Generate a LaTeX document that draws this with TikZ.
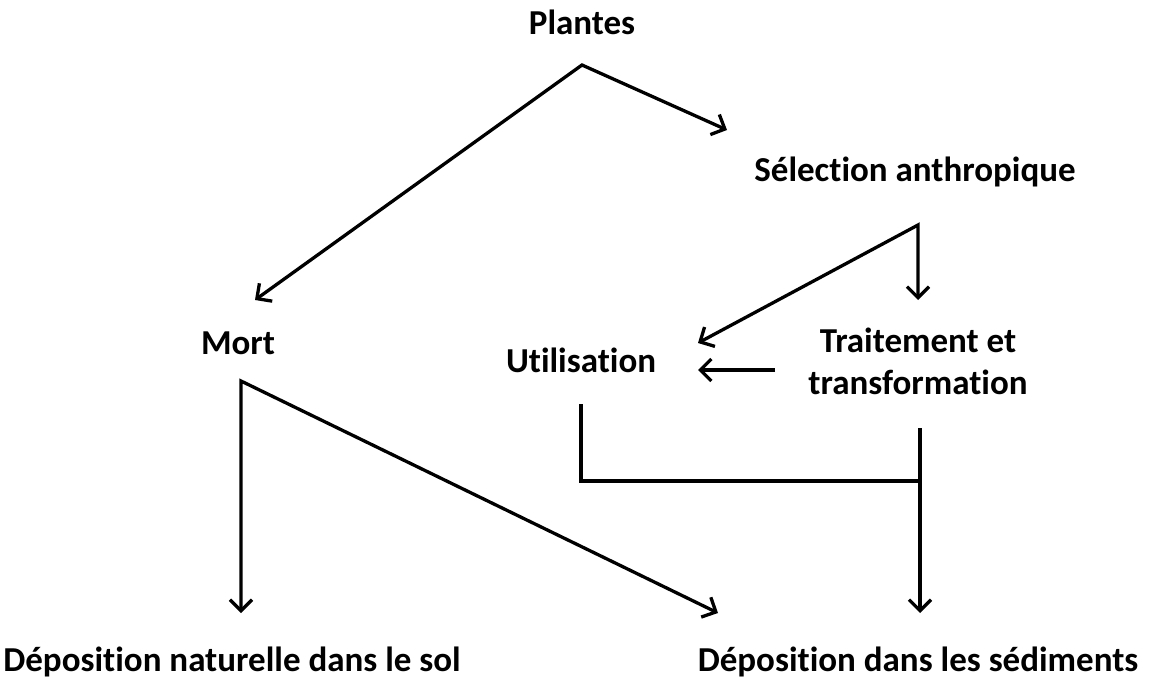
\documentclass[tikz,border=0pt]{standalone}
\usepackage{fontspec}
\setmainfont{Carlito}[RawFeature={-liga}]
\usetikzlibrary{arrows.meta}
\begin{document}
\begin{tikzpicture}[x=1pt,y=-1pt,
  lbl/.style={font=\fontsize{35}{42}\selectfont\bfseries, inner sep=0pt, anchor=base},
  conn/.style={line width=3.3pt, line join=miter},
  tip/.style={Straight Barb[length=11pt,width=22pt,line width=3.3pt]},
  arr/.style={conn, -{Straight Barb[length=11pt,width=22pt,line width=3.3pt]}},
  arrb/.style={conn, {Straight Barb[length=11pt,width=22pt,line width=3.3pt]}-{Straight Barb[length=11pt,width=22pt,line width=3.3pt]}}]
\useasboundingbox (0,0) rectangle (1158,685);
\node[lbl] (plantes) at (582,35) {Plantes};
\node[lbl] (selection) at (915,181) {Sélection anthropique};
\node[lbl] (mort) at (238,354) {Mort};
\node[lbl] (util) at (581,372) {Utilisation};
\node[lbl] (trait1) at (918,352) {Traitement et};
\node[lbl] (trait2) at (918,394) {transformation};
\node[lbl] (depnat) at (232,671) {Déposition naturelle dans le sol};
\node[lbl] (depsed) at (918,671) {Déposition dans les sédiments};
% connector points
\coordinate (p0) at (582,65);
\coordinate (pS) at (727,130);
\coordinate (pM) at (255,300);
\coordinate (s0) at (918,225);
\coordinate (sU) at (698,343);
\coordinate (sT) at (918,300);
\coordinate (tA) at (775,370);
\coordinate (tU) at (698,370);
\coordinate (m0) at (241,381);
\coordinate (mN) at (241,613);
\coordinate (mS) at (718,613);
\coordinate (u0) at (581,404);
\coordinate (j) at (920,481);
\coordinate (t0) at (920,428);
\coordinate (tS) at (920,613);
\draw[arrb] (pM) -- (p0) -- (pS);
\draw[arrb] (sU) -- (s0) -- (sT);
\draw[arr] (tA) -- (tU);
\draw[arrb] (mN) -- (m0) -- (mS);
\draw[conn] (u0) |- (j);
\draw[arr] (t0) -- (tS);
\end{tikzpicture}
\end{document}
